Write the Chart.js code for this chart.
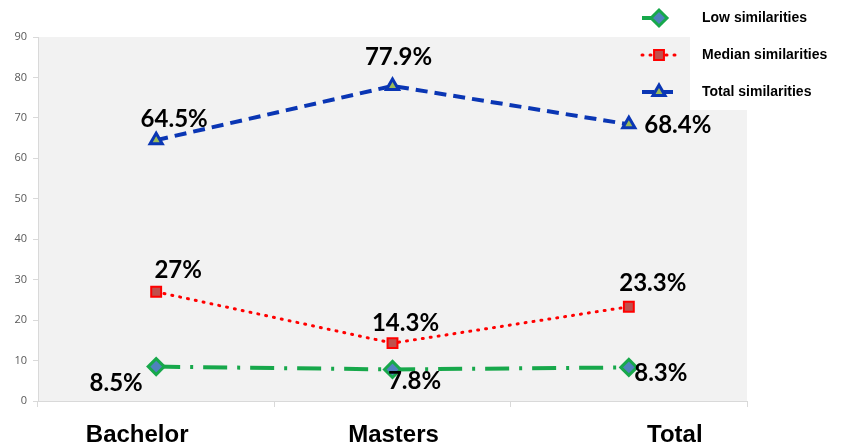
<!DOCTYPE html>
<html>
<head>
<meta charset="utf-8">
<script src="https://cdn.jsdelivr.net/npm/chart.js@4.4.0/dist/chart.umd.min.js"></script>
<style>
  html, body { margin: 0; padding: 0; background: #fff; }
  #wrap { width: 845px; height: 446px; }
</style>
</head>
<body>
<div id="wrap"><canvas id="miGrafica" width="845" height="446"></canvas></div>
<script>
// datos
const categorias = ['Bachelor', 'Masters', 'Total'];
const bajas = [8.5, 7.8, 8.3];
const medias = [27, 14.3, 23.3];
const totales = [64.5, 77.9, 68.4];
const etiquetasBajas = ['8.5%', '7.8%', '8.3%'];
const etiquetasMedias = ['27%', '14.3%', '23.3%'];
const etiquetasTotales = ['64.5%', '77.9%', '68.4%'];
const ticksY = [0, 10, 20, 30, 40, 50, 60, 70, 80, 90];

// donde va cada etiqueta respecto a su punto (dx, dy)
const posBajas = [[-40, 17], [22, 12], [32, 6]];
const posMedias = [[22, -22], [13, -20], [24, -23]];
const posTotales = [[18, -21], [6, -29], [49, 1]];
const posCategorias = [-19, 1, 46];

const fondoPlot = {
    id: 'fondoPlot',
    beforeDraw(chart) {
        const { ctx, chartArea } = chart;
        ctx.save();
        ctx.fillStyle = '#f2f2f2';
        ctx.fillRect(chartArea.left, chartArea.top, chartArea.right - chartArea.left, chartArea.bottom - chartArea.top);
        ctx.restore();
    }
};

const etiquetas = {
    id: 'etiquetas',
    afterDatasetsDraw(chart) {
        const ctx = chart.ctx;
        const grupos = [
            [etiquetasBajas, posBajas],
            [etiquetasMedias, posMedias],
            [etiquetasTotales, posTotales]
        ];
        ctx.save();
        ctx.font = 'bold 24px Lato, "Open Sans", sans-serif';
        ctx.fillStyle = '#000';
        ctx.textAlign = 'center';
        ctx.textBaseline = 'middle';
        grupos.forEach((g, i) => {
            const meta = chart.getDatasetMeta(i);
            meta.data.forEach((p, j) => {
                ctx.fillText(g[0][j], p.x + g[1][j][0], p.y + g[1][j][1]);
            });
        });
        // nombres de categoria
        const x = chart.scales.x;
        ctx.font = 'bold 24px "Liberation Sans", Arial, sans-serif';
        categorias.forEach((c, i) => {
            ctx.fillText(c, x.getPixelForValue(i) + posCategorias[i], 435);
        });
        ctx.restore();
    }
};

const leyenda = {
    id: 'leyenda',
    afterDraw(chart) {
        const ctx = chart.ctx;
        ctx.save();
        ctx.fillStyle = '#ffffff';
        ctx.fillRect(690, 0, 155, 110);
        const items = chart.data.datasets;
        items.forEach((ds, i) => {
            const y = 18 + i * 37;
            ctx.strokeStyle = ds.borderColor;
            ctx.lineWidth = ds.borderWidth;
            ctx.lineCap = ds.borderCapStyle || 'butt';
            ctx.setLineDash(ds.borderDash);
            ctx.beginPath();
            ctx.moveTo(642, y);
            ctx.lineTo(676, y);
            ctx.stroke();
            ctx.setLineDash([]);
            ctx.fillStyle = ds.pointBackgroundColor;
            ctx.strokeStyle = ds.pointBorderColor;
            ctx.lineWidth = ds.pointBorderWidth;
            Chart.helpers.drawPoint(ctx, { pointStyle: ds.pointStyle, rotation: 0, radius: ds.pointRadius, borderWidth: ds.pointBorderWidth }, 659, y);
            ctx.fillStyle = '#000';
            ctx.font = 'bold 14px "Liberation Sans", Arial, sans-serif';
            ctx.textAlign = 'left';
            ctx.textBaseline = 'middle';
            ctx.fillText(ds.label, 702, y);
        });
        ctx.restore();
    }
};

new Chart(document.getElementById('miGrafica').getContext('2d'), {
    type: 'line',
    data: {
        labels: categorias,
        datasets: [
            {
                label: 'Low similarities',
                data: bajas,
                borderColor: '#17a84b',
                borderWidth: 4,
                borderDash: [24, 10, 3, 10],
                pointStyle: 'rectRot',
                pointRadius: 8,
                pointBackgroundColor: '#4f81bd',
                pointBorderColor: '#17a84b',
                pointBorderWidth: 3,
                tension: 0,
                fill: false
            },
            {
                label: 'Median similarities',
                data: medias,
                borderColor: '#ff0000',
                borderWidth: 3,
                borderDash: [1, 7],
                borderCapStyle: 'round',
                pointStyle: 'rect',
                pointRadius: 7,
                pointBackgroundColor: '#c0504d',
                pointBorderColor: '#ff0000',
                pointBorderWidth: 2,
                tension: 0,
                fill: false
            },
            {
                label: 'Total similarities',
                data: totales,
                borderColor: '#0a36b4',
                borderWidth: 4,
                borderDash: [12, 7],
                pointStyle: 'triangle',
                pointRadius: 7,
                pointBackgroundColor: '#9bbb59',
                pointBorderColor: '#0a36b4',
                pointBorderWidth: 3,
                tension: 0,
                fill: false
            }
        ]
    },
    options: {
        responsive: false,
        animation: false,
        layout: { padding: { top: 37, right: 98, left: 0, bottom: 0 } },
        plugins: {
            legend: { display: false },
            tooltip: { enabled: false }
        },
        scales: {
            x: {
                offset: true,
                afterFit: function (scale) { scale.height = 45; },
                border: { color: '#d9d9d9', width: 1 },
                grid: { display: true, drawOnChartArea: false, tickLength: 6, color: '#d9d9d9', offset: true },
                ticks: { display: false }
            },
            y: {
                min: 0,
                max: 90,
                afterFit: function (scale) { scale.width = 38; },
                afterBuildTicks: function (scale) { scale.ticks = ticksY.map(v => ({ value: v })); },
                border: { color: '#d9d9d9', width: 1 },
                grid: { display: true, drawOnChartArea: false, tickLength: 5, color: '#d9d9d9' },
                ticks: {
                    color: '#595959',
                    padding: 6,
                    font: { family: '"Open Sans", sans-serif', size: 11 }
                }
            }
        }
    },
    plugins: [fondoPlot, etiquetas, leyenda]
});
</script>
</body>
</html>
